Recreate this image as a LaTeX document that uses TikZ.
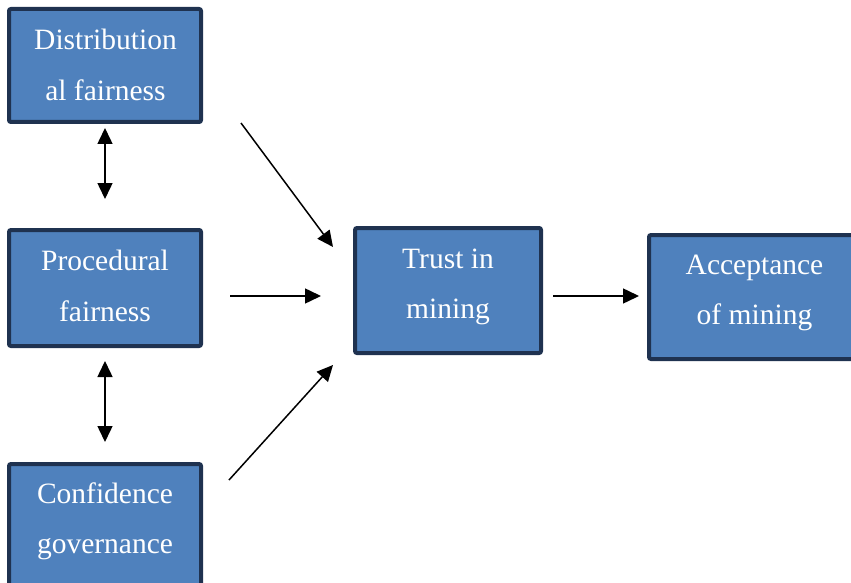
\documentclass[tikz,border=0pt]{standalone}
\usepackage{fontspec}
\setmainfont{Liberation Serif}
\usetikzlibrary{arrows.meta}
\definecolor{boxfill}{HTML}{4F81BD}
\definecolor{boxline}{RGB}{31,50,80}
\begin{document}
\begin{tikzpicture}[x=1pt,y=-1pt,
  box/.style={draw=boxline, fill=boxfill, line width=4pt, rounded corners=2pt, inner sep=0pt},
  lbl/.style={text=white, font=\fontsize{29.5}{50.5}\selectfont, align=center, inner sep=0pt},
  arr/.style={-{Triangle[length=16pt,width=15pt]}, line width=1.5pt},
  darr/.style={{Triangle[length=16pt,width=15pt]}-{Triangle[length=16pt,width=15pt]}, line width=1.5pt}]
\useasboundingbox (0,0) rectangle (851,583);
\clip (0,0) rectangle (851,583);
% boxes
\node[box, minimum width=192pt, minimum height=113pt] (d) at (105,65.5) {};
\node[box, minimum width=192pt, minimum height=116pt] (p) at (105,288) {};
\node[box, minimum width=192pt, minimum height=136pt] (c) at (105,532) {};
\node[box, minimum width=186pt, minimum height=125pt] (t) at (448,290.5) {};
\node[box, minimum width=211pt, minimum height=124pt] (a) at (754.5,297) {};
% texts
\node[lbl] (dl) at (105.5,65) {Distribution\\al fairness};
\node[lbl] (pl) at (105,286) {Procedural\\fairness};
\node[lbl] (cl) at (105,521.5) {Confidence\\governance};
\node[lbl] (tl) at (448,287) {Trust in\\mining};
\node[lbl] (al) at (754.5,293) {Acceptance\\of mining};
% connector end points
\coordinate (s1) at (241,123); \coordinate (e1) at (333,247);
\coordinate (s2) at (230,296); \coordinate (e2) at (321,296);
\coordinate (s3) at (229,480); \coordinate (e3) at (333,365);
\coordinate (s4) at (553,296); \coordinate (e4) at (639,296);
% connectors
\draw[darr, shorten <=4pt, shorten >=29pt] (d.south) -- (p.north);
\draw[darr, shorten <=13pt, shorten >=20pt] (p.south) -- (c.north);
\draw[arr] (s1) -- (e1);
\draw[arr] (s2) -- (e2);
\draw[arr] (s3) -- (e3);
\draw[arr] (s4) -- (e4);
\end{tikzpicture}
\end{document}
